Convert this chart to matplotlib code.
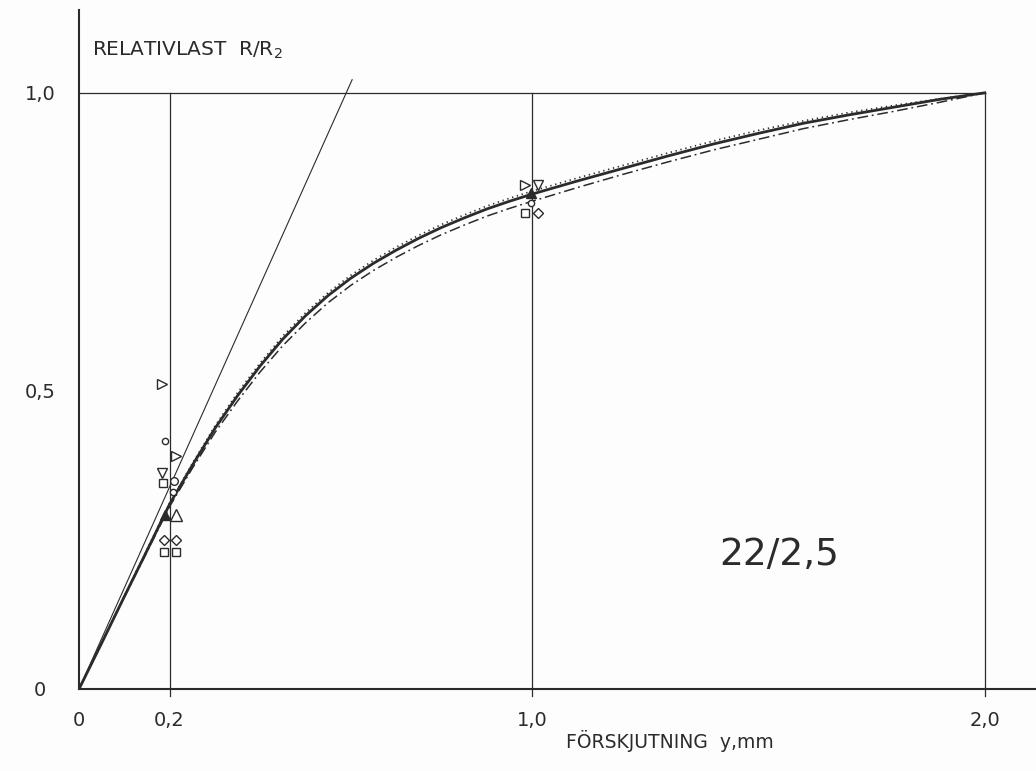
"""
Relative load vs. displacement, joint 22/2,5
"""

import matplotlib
matplotlib.use("Agg")
import matplotlib.pyplot as plt

INK = "#2b2b2b"

# mean curves, read at the same displacements
disp = [0.0, 0.05, 0.1, 0.15, 0.2, 0.25, 0.3, 0.35, 0.4, 0.45, 0.5, 0.55, 0.6, 0.65,
        0.7, 0.75, 0.8, 0.85, 0.9, 0.95, 1.0, 1.1, 1.2, 1.3, 1.4, 1.5, 1.6, 1.7,
        1.8, 1.9, 2.0]
load_solid = [0.0, 0.077, 0.155, 0.232, 0.31, 0.375, 0.437, 0.492, 0.542, 0.587,
              0.626, 0.66, 0.689, 0.714, 0.736, 0.756, 0.774, 0.79, 0.805, 0.818,
              0.83, 0.852, 0.873, 0.894, 0.914, 0.932, 0.949, 0.963, 0.976, 0.989, 1.0]
load_dotted = [0.0, 0.078, 0.156, 0.234, 0.312, 0.378, 0.441, 0.497, 0.547, 0.592,
               0.631, 0.665, 0.694, 0.719, 0.741, 0.761, 0.779, 0.795, 0.81, 0.823,
               0.835, 0.857, 0.878, 0.899, 0.919, 0.937, 0.953, 0.967, 0.979, 0.99, 1.0]
load_dashdot = [0.0, 0.077, 0.154, 0.23, 0.306, 0.37, 0.43, 0.483, 0.532, 0.576,
                0.614, 0.648, 0.677, 0.702, 0.724, 0.744, 0.762, 0.778, 0.793, 0.806,
                0.818, 0.841, 0.863, 0.884, 0.904, 0.922, 0.94, 0.955, 0.969, 0.984, 1.0]

# initial tangent
tangent_x = [0.0, 0.603]
tangent_y = [0.0, 1.022]

# single test results: (marker, filled, size, x, y)
tests = [
    (">", False, 7, 0.183, 0.512),
    ("o", False, 4.5, 0.19, 0.416),
    (">", False, 7, 0.214, 0.391),
    ("v", False, 7, 0.183, 0.362),
    ("s", False, 6, 0.185, 0.346),
    ("o", False, 5.5, 0.21, 0.349),
    ("o", False, 4.5, 0.207, 0.330),
    ("^", True, 7, 0.19, 0.291),
    ("^", False, 8, 0.214, 0.291),
    ("D", False, 5.5, 0.188, 0.25),
    ("D", False, 5.5, 0.214, 0.25),
    ("s", False, 6, 0.187, 0.229),
    ("s", False, 6, 0.213, 0.229),
    (">", False, 7, 0.985, 0.846),
    ("v", False, 7, 1.013, 0.846),
    ("^", True, 7, 0.997, 0.832),
    ("o", False, 4.5, 0.997, 0.815),
    ("s", False, 6, 0.985, 0.799),
    ("D", False, 5.5, 1.013, 0.799),
]

xticks = [0.0, 0.2, 1.0, 2.0]
xtick_labels = ["0", "0,2", "1,0", "2,0"]
yticks = [0.0, 0.5, 1.0]
ytick_labels = ["0", "0,5", "1,0"]


def main():
    fig = plt.figure(figsize=(10.36, 7.71), dpi=100, facecolor="#fdfdfd")
    ax = fig.add_axes([0.0763, 0.1064, 0.9237, 0.8807])
    ax.set_facecolor("#fdfdfd")
    ax.set_xlim(0, 2.113)
    ax.set_ylim(0, 1.139)

    # reference grid
    for gx in xticks[1:]:
        ax.plot([gx, gx], [-0.012, 1.0], color=INK, lw=0.9, clip_on=False)
    ax.plot([0, 2.0], [1.0, 1.0], color=INK, lw=0.9)

    ax.plot(tangent_x, tangent_y, color=INK, lw=0.8)

    ax.plot(disp, load_dashdot, color=INK, lw=1.1, linestyle=(0, (7, 2.5, 1.2, 2.5)))
    ax.plot(disp, load_dotted, color=INK, lw=1.2, linestyle=(0, (0.8, 2.2)))
    ax.plot(disp, load_solid, color=INK, lw=2.0)

    for m, filled, size, x, y in tests:
        ax.plot([x], [y], marker=m, markersize=size, linestyle="none",
                markerfacecolor=INK if filled else "white",
                markeredgecolor=INK, markeredgewidth=1.0)

    for side in ["top", "right"]:
        ax.spines[side].set_visible(False)
    for side in ["left", "bottom"]:
        ax.spines[side].set_linewidth(1.5)
        ax.spines[side].set_color(INK)

    ax.set_xticks(xticks, xtick_labels)
    ax.set_yticks(yticks, ytick_labels)
    ax.tick_params(axis="x", length=0, pad=16, labelsize=14, labelcolor=INK)
    ax.tick_params(axis="y", length=0, pad=28, labelsize=14, labelcolor=INK)
    for lab in ax.get_yticklabels():
        lab.set_horizontalalignment("center")

    ax.text(0.0136, 0.941, "RELATIVLAST  R/R$_2$", transform=ax.transAxes,
            fontsize=14.5, color=INK, va="center", ha="left")
    ax.set_xlabel("FÖRSKJUTNING  y,mm", fontsize=13.5, color=INK)
    ax.xaxis.set_label_coords(0.6176, -0.06)

    ax.text(1.545, 0.225, "22/2,5", fontsize=27, color=INK, ha="center", va="center")

    fig.savefig("out.png", dpi=100, facecolor=fig.get_facecolor())


if __name__ == "__main__":
    main()
